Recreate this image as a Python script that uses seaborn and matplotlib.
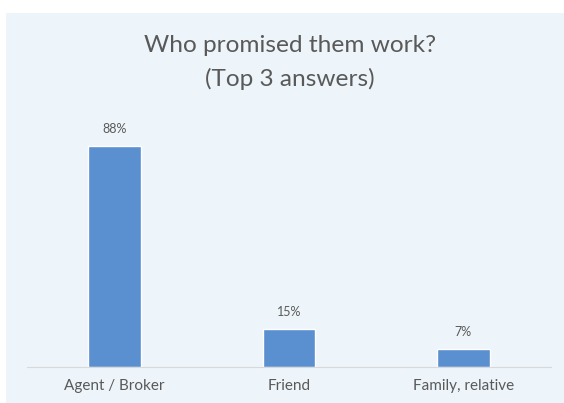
import matplotlib
matplotlib.use("Agg")
import matplotlib.pyplot as plt
from matplotlib.patches import Rectangle
import seaborn as sns
import pandas as pd

categories = ["Agent / Broker", "Friend", "Family, relative"]
shares = [88, 15, 7]
value_labels = ["88%", "15%", "7%"]

sns.set_theme(style="white")
plt.rcParams["font.family"] = ["Lato", "DejaVu Sans"]

text_gray = "#595959"
bar_blue = "#5a8fd0"
panel_bg = "#edf5fa"

fig = plt.figure(figsize=(5.64, 4.03), dpi=100)
fig.patch.set_facecolor("white")
panel = Rectangle((6 / 564, 0), 1, 1 - 13 / 403, transform=fig.transFigure,
                  facecolor=panel_bg, edgecolor="none", zorder=-5)
fig.patches.append(panel)

ax = fig.add_axes([0.0483, 0.0893, 0.928, 0.623])
ax.set_facecolor("none")

df = pd.DataFrame({"category": categories, "share": shares})
sns.barplot(data=df, x="category", y="share", color=bar_blue, width=0.30,
            saturation=1, ax=ax)

for i, (v, lab) in enumerate(zip(shares, value_labels)):
    ax.text(i, v + 4.6, lab, ha="center", va="bottom", fontsize=9, color=text_gray)

ax.set_xlim(-0.5, 2.5)
ax.set_ylim(0, 100)
ax.set_xlabel("")
ax.set_ylabel("")
ax.set_yticks([])
ax.tick_params(axis="x", length=0, pad=8.5, labelsize=11, labelcolor=text_gray)
for side in ("top", "left", "right"):
    ax.spines[side].set_visible(False)
ax.spines["bottom"].set_color("#d9d9d9")
ax.spines["bottom"].set_linewidth(0.8)

title_x = 290 / 564
fig.text(title_x, 1 - 52 / 403, "Who promised them work?", ha="center", va="baseline",
         fontsize=17.6, color=text_gray)
fig.text(title_x, 1 - 86 / 403, "(Top 3 answers)", ha="center", va="baseline",
         fontsize=17.6, color=text_gray)

fig.savefig("out.png", dpi=100)
